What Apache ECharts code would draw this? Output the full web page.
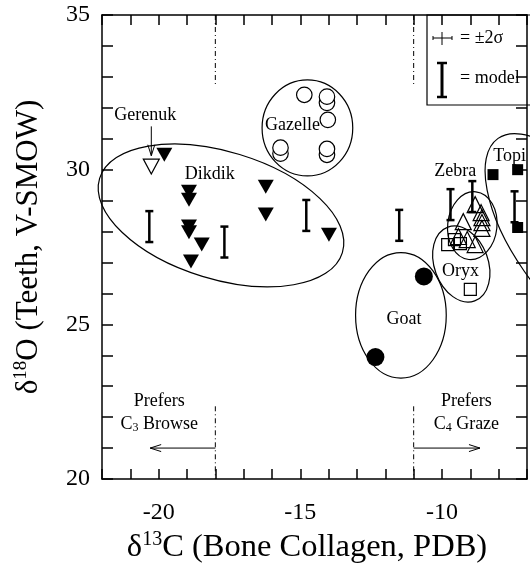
<!DOCTYPE html>
<html>
<head>
<meta charset="utf-8">
<script src="https://cdn.jsdelivr.net/npm/echarts@6/dist/echarts.min.js"></script>
<style>
  html, body { margin: 0; padding: 0; background: #fff; }
  #chart { width: 530px; height: 571px; }
</style>
</head>
<body>
<div id="chart"></div>
<script>
  // d13C (bone collagen), d18O (teeth) per animal
  var dikdik = [[-19.8, 30.48], [-18.93, 29.29], [-18.93, 29.03], [-18.93, 28.16], [-18.93, 27.98],
    [-18.48, 27.58], [-18.86, 27.03], [-16.22, 29.45], [-16.22, 28.55], [-13.99, 27.9]]
  var gerenuk = [[-20.26, 30.1]]
  var gazelle = [[-15.7, 30.52], [-15.7, 30.71], [-14.06, 30.48], [-14.06, 30.67], [-14.03, 31.61],
    [-14.06, 32.16], [-14.06, 32.36], [-14.86, 32.42]]
  var goat = [[-10.64, 26.55], [-12.35, 23.94]]
  var zebra = [[-8.83, 28.87], [-9.25, 28.32], [-8.62, 28.61], [-8.59, 28.45], [-8.59, 28.29],
    [-8.59, 28.1], [-9.42, 27.84], [-9.11, 27.74], [-8.83, 27.58]]
  var oryx = [[-9.8, 27.58], [-9.56, 27.74], [-9.35, 27.61], [-9.0, 26.13]]
  var topi = [[-8.2, 29.84], [-7.33, 30.0], [-7.33, 28.13]]
  // model range bars: x, y, half range
  var modelBars = [[-20.33, 28.16, 0.5], [-17.68, 27.66, 0.5], [-14.79, 28.52, 0.5], [-11.51, 28.2, 0.5],
    [-9.7, 28.87, 0.5], [-8.93, 29.13, 0.5], [-7.44, 28.8, 0.5]]

  // group outlines: cx, cy, rx, ry, tilt (deg, clockwise)
  var groupOutlines = [[-17.8, 28.52, 4.48, 2.06, 17], [-14.75, 31.35, 1.6, 1.55, 0],
    [-11.45, 25.29, 1.6, 2.03, 0], [-8.93, 28.19, 0.87, 1.1, 6], [-9.32, 26.95, 0.95, 1.27, -20],
    [-5.52, 27.74, 4.36, 1.77, 55]]

  var labelText = ['Gerenuk', 'Dikdik', 'Gazelle', 'Zebra', 'Topi', 'Oryx', 'Goat',
    'Prefers', '{n|C}{b|3}{n| Browse}', 'Prefers', '{n|C}{b|4}{n| Graze}']
  var labelX = [-20.47, -18.2, -15.28, -9.53, -7.61, -9.35, -11.34, -19.98, -19.98, -9.14, -9.14]
  var labelY = [31.77, 29.84, 31.45, 29.94, 30.42, 26.71, 25.16, 22.52, 21.77, 22.52, 21.77]

  // diet boundaries and arrows: x1, y1, x2, y2
  var guides = [[-18, 35, -18, 32.74], [-18, 22.35, -18, 20], [-11, 35, -11, 32.74], [-11, 22.35, -11, 20]]
  var arrows = [[-18, 21, -20.3, 21], [-11, 21, -8.66, 21], [-20.26, 31.4, -20.26, 30.45]]

  var xTicks = { min: -22, max: -7, step: 1 }
  var yTicks = { min: 20, max: 35, step: 1 }

  var serif = "'Liberation Serif', 'Times New Roman', serif"

  function axisX(pos, labels) {
    return {
      type: 'value', position: pos, min: xTicks.min, max: xTicks.max, interval: xTicks.step,
      axisLine: { lineStyle: { color: '#000', width: 1.5 } },
      axisTick: { inside: true, length: 10, lineStyle: { color: '#000', width: 1.5 } },
      axisLabel: {
        show: labels, color: '#000', fontFamily: serif, fontSize: 24, margin: 22,
        formatter: function (v) { return v % 5 === 0 ? String(v) : '' }
      },
      splitLine: { show: false }
    }
  }
  function axisY(pos, labels) {
    return {
      type: 'value', position: pos, min: yTicks.min, max: yTicks.max, interval: yTicks.step,
      axisLine: { lineStyle: { color: '#000', width: 1.5 } },
      axisTick: { inside: true, length: 11, lineStyle: { color: '#000', width: 1.5 } },
      axisLabel: {
        show: labels, color: '#000', fontFamily: serif, fontSize: 24, margin: 12,
        formatter: function (v) { return v % 5 === 0 ? String(v) : '' }
      },
      splitLine: { show: false }
    }
  }

  var xMain = axisX('bottom', true)
  xMain.name = '{d|δ}{s|13}{d|C (Bone Collagen, PDB)}'
  xMain.nameLocation = 'middle'
  xMain.nameGap = 50
  xMain.nameTextStyle = {
    padding: [0, 15, 0, 0],
    rich: {
      d: { fontFamily: serif, fontSize: 32.5, color: '#000', lineHeight: 35 },
      s: { fontFamily: serif, fontSize: 20, color: '#000', verticalAlign: 'top', lineHeight: 20 }
    }
  }
  var yMain = axisY('left', true)
  yMain.name = '{d|δ}{s|18}{d|O (Teeth, V-SMOW)}'
  yMain.nameLocation = 'middle'
  yMain.nameGap = 56
  yMain.nameTextStyle = {
    rich: {
      d: { fontFamily: serif, fontSize: 31, color: '#000', lineHeight: 34 },
      s: { fontFamily: serif, fontSize: 19, color: '#000', verticalAlign: 'top', lineHeight: 19 }
    }
  }

  function renderOutline(params, api) {
    var c = api.coord([api.value(0), api.value(1)])
    var s = api.size([api.value(2), api.value(3)])
    return {
      type: 'ellipse', x: c[0], y: c[1], rotation: -api.value(4) * Math.PI / 180,
      shape: { cx: 0, cy: 0, rx: s[0], ry: s[1] },
      style: { fill: 'none', stroke: '#000', lineWidth: 1.2 }
    }
  }

  function renderBar(params, api) {
    var x = api.value(0), y = api.value(1), h = api.value(2)
    var top = api.coord([x, y + h]), bot = api.coord([x, y - h])
    var st = { stroke: '#000', lineWidth: 2.5 }
    return {
      type: 'group', children: [
        { type: 'line', shape: { x1: top[0], y1: top[1], x2: bot[0], y2: bot[1] }, style: st },
        { type: 'line', shape: { x1: top[0] - 4, y1: top[1], x2: top[0] + 4, y2: top[1] }, style: st },
        { type: 'line', shape: { x1: bot[0] - 4, y1: bot[1], x2: bot[0] + 4, y2: bot[1] }, style: st }
      ]
    }
  }

  function renderGuide(params, api) {
    var a = api.coord([api.value(0), api.value(1)]), b = api.coord([api.value(2), api.value(3)])
    return {
      type: 'line', shape: { x1: a[0], y1: a[1], x2: b[0], y2: b[1] },
      style: { stroke: '#000', lineWidth: 1, lineDash: [5, 3, 1, 3] }
    }
  }

  function renderArrow(params, api) {
    var a = api.coord([api.value(0), api.value(1)]), b = api.coord([api.value(2), api.value(3)])
    var dx = b[0] - a[0], dy = b[1] - a[1], len = Math.sqrt(dx * dx + dy * dy)
    var ux = dx / len, uy = dy / len
    var hl = 11, hw = 3.5
    var st = { stroke: '#000', lineWidth: 1 }
    return {
      type: 'group', children: [
        { type: 'line', shape: { x1: a[0], y1: a[1], x2: b[0], y2: b[1] }, style: st },
        { type: 'line', shape: { x1: b[0], y1: b[1], x2: b[0] - ux * hl - uy * hw, y2: b[1] - uy * hl + ux * hw }, style: st },
        { type: 'line', shape: { x1: b[0], y1: b[1], x2: b[0] - ux * hl + uy * hw, y2: b[1] - uy * hl - ux * hw }, style: st }
      ]
    }
  }

  function renderLabel(params, api) {
    var c = api.coord([api.value(0), api.value(1)])
    return {
      type: 'text', x: c[0], y: c[1],
      style: {
        text: labelText[api.value(2)], fontFamily: serif, fontSize: 18, fill: '#000',
        align: 'center', verticalAlign: 'middle',
        rich: {
          n: { fontFamily: serif, fontSize: 18, color: '#000', lineHeight: 20 },
          b: { fontFamily: serif, fontSize: 12, color: '#000', verticalAlign: 'bottom', lineHeight: 12 }
        }
      }
    }
  }

  var solid = { color: '#000', opacity: 1 }
  var open = { color: '#fff', borderColor: '#000', borderWidth: 1.2, opacity: 1 }
  var hollow = { color: 'transparent', borderColor: '#000', borderWidth: 1.2, opacity: 1 }

  var chart = echarts.init(document.getElementById('chart'), null, { renderer: 'canvas' })
  chart.setOption({
    animation: false,
    backgroundColor: '#fff',
    grid: { left: 102, right: -3, top: 15, bottom: 92 },
    xAxis: [xMain, axisX('top', false)],
    yAxis: [yMain, axisY('right', false)],
    graphic: [
      { type: 'rect', shape: { x: 427, y: 15, width: 130, height: 90 }, style: { fill: 'none', stroke: '#000', lineWidth: 1.2 } },
      { type: 'line', shape: { x1: 433, y1: 38, x2: 452, y2: 38 }, style: { stroke: '#000', lineWidth: 1 } },
      { type: 'line', shape: { x1: 442, y1: 32, x2: 442, y2: 45 }, style: { stroke: '#000', lineWidth: 1 } },
      { type: 'line', shape: { x1: 433, y1: 36, x2: 433, y2: 40 }, style: { stroke: '#000', lineWidth: 1 } },
      { type: 'line', shape: { x1: 452, y1: 36, x2: 452, y2: 40 }, style: { stroke: '#000', lineWidth: 1 } },
      { type: 'text', x: 460, y: 38, style: { text: '= ±2σ', fontFamily: serif, fontSize: 18, fill: '#000', verticalAlign: 'middle' } },
      { type: 'line', shape: { x1: 442, y1: 63, x2: 442, y2: 97 }, style: { stroke: '#000', lineWidth: 3 } },
      { type: 'line', shape: { x1: 437, y1: 63, x2: 447, y2: 63 }, style: { stroke: '#000', lineWidth: 2.5 } },
      { type: 'line', shape: { x1: 437, y1: 97, x2: 447, y2: 97 }, style: { stroke: '#000', lineWidth: 2.5 } },
      { type: 'text', x: 460, y: 78, style: { text: '= model', fontFamily: serif, fontSize: 18, fill: '#000', verticalAlign: 'middle' } }
    ],
    series: [
      { type: 'custom', name: 'outlines', renderItem: renderOutline, data: groupOutlines, silent: true, z: 1 },
      { type: 'custom', name: 'guides', renderItem: renderGuide, data: guides, silent: true, z: 1 },
      { type: 'custom', name: 'arrows', renderItem: renderArrow, data: arrows, silent: true, z: 1 },
      { type: 'custom', name: 'model', renderItem: renderBar, data: modelBars, silent: true, z: 2 },
      { type: 'scatter', name: 'Dikdik', data: dikdik, symbol: 'triangle', symbolRotate: 180, symbolSize: [16, 14],
        itemStyle: solid, z: 3 },
      { type: 'scatter', name: 'Gerenuk', data: gerenuk, symbol: 'triangle', symbolRotate: 180, symbolSize: [16, 15],
        itemStyle: open, z: 3 },
      { type: 'scatter', name: 'Gazelle', data: gazelle, symbol: 'circle', symbolSize: 15.5,
        itemStyle: open, z: 3 },
      { type: 'scatter', name: 'Goat', data: goat, symbol: 'circle', symbolSize: 18,
        itemStyle: solid, z: 3 },
      { type: 'scatter', name: 'Zebra', data: zebra, symbol: 'triangle', symbolSize: 16,
        itemStyle: hollow, z: 3 },
      { type: 'scatter', name: 'Oryx', data: oryx, symbol: 'rect', symbolSize: 12,
        itemStyle: hollow, z: 3 },
      { type: 'scatter', name: 'Topi', data: topi, symbol: 'rect', symbolSize: 11,
        itemStyle: solid, z: 3 },
      { type: 'custom', name: 'labels', renderItem: renderLabel, silent: true, z: 4,
        data: labelText.map(function (t, i) { return [labelX[i], labelY[i], i] }) }
    ]
  })
</script>
</body>
</html>
